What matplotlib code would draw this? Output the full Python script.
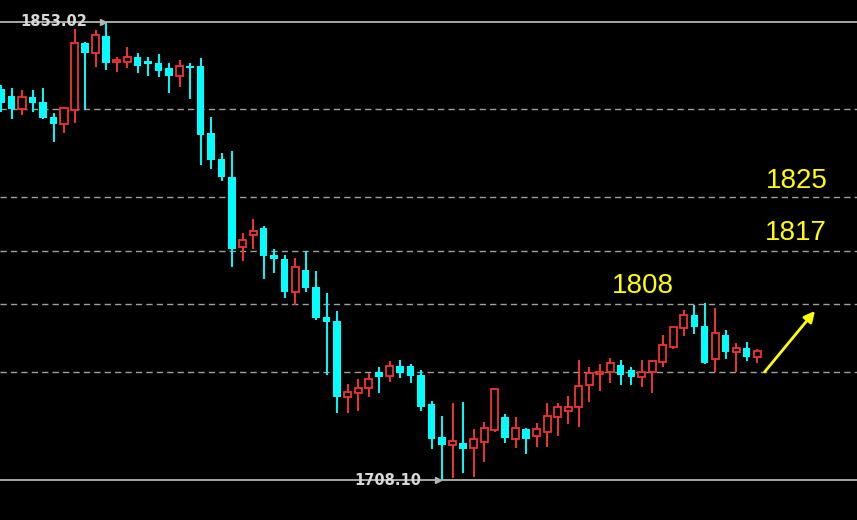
import matplotlib
matplotlib.use("Agg")
import matplotlib.pyplot as plt
import numpy as np

# candle data (open, high, low, close), one per bar, oldest first
opens = [1831.8, 1829.6, 1825.5, 1829.3, 1827.7, 1823.0, 1820.7, 1825.2, 1846.4, 1843.2,
         1848.6, 1840.4, 1840.4, 1842.0, 1840.7, 1840.0, 1838.5, 1835.9, 1839.1, 1839.1,
         1817.9, 1809.7, 1804.0, 1781.8, 1785.6, 1787.8, 1779.3, 1778.0, 1767.6, 1774.6,
         1769.2, 1759.7, 1758.4, 1734.4, 1735.6, 1737.2, 1742.3, 1741.0, 1744.2, 1744.2,
         1741.3, 1732.2, 1721.7, 1719.2, 1719.8, 1718.2, 1720.1, 1723.9, 1728.0, 1721.1,
         1724.2, 1722.0, 1723.3, 1728.0, 1729.9, 1731.2, 1738.2, 1741.6, 1742.3, 1744.5,
         1742.9, 1740.7, 1742.3, 1745.4, 1750.2, 1756.2, 1760.3, 1756.8, 1746.4, 1754.0,
         1748.6, 1749.9, 1747.0]
highs = [1833.1, 1832.1, 1831.5, 1831.5, 1832.1, 1824.2, 1826.1, 1850.8, 1846.7, 1850.5,
         1853.02, 1842.0, 1845.1, 1843.2, 1842.0, 1842.9, 1840.0, 1841.0, 1840.0, 1841.6,
         1823.0, 1811.6, 1812.2, 1786.3, 1790.7, 1788.5, 1781.2, 1779.3, 1778.3, 1780.6,
         1774.2, 1767.3, 1761.6, 1738.5, 1740.1, 1742.0, 1743.9, 1745.8, 1746.1, 1744.8,
         1742.9, 1733.1, 1728.4, 1732.5, 1732.8, 1724.2, 1726.5, 1736.9, 1729.0, 1728.0,
         1724.6, 1726.1, 1732.5, 1732.5, 1734.7, 1746.1, 1743.9, 1744.8, 1746.7, 1746.1,
         1743.9, 1746.1, 1746.1, 1754.0, 1756.5, 1761.9, 1763.5, 1764.1, 1762.5, 1755.6,
         1751.5, 1751.8, 1749.6]
lows = [1824.5, 1822.3, 1823.6, 1824.5, 1822.3, 1815.1, 1817.9, 1821.1, 1825.2, 1838.8,
        1837.8, 1837.2, 1838.5, 1836.9, 1835.9, 1835.6, 1830.6, 1832.5, 1828.7, 1807.8,
        1806.5, 1802.7, 1775.5, 1777.4, 1781.2, 1771.7, 1773.6, 1765.7, 1763.5, 1767.6,
        1758.7, 1741.3, 1729.3, 1729.3, 1729.9, 1734.4, 1735.6, 1739.1, 1740.4, 1738.8,
        1729.9, 1717.9, 1708.10, 1708.7, 1710.3, 1709.0, 1713.8, 1723.3, 1719.8, 1718.2,
        1716.3, 1718.5, 1718.5, 1722.0, 1725.8, 1724.9, 1732.8, 1736.3, 1738.8, 1738.2,
        1738.2, 1737.5, 1735.6, 1743.9, 1749.6, 1753.7, 1754.3, 1744.8, 1742.3, 1746.4,
        1742.3, 1745.8, 1745.1]
closes = [1827.4, 1825.5, 1829.3, 1827.4, 1822.6, 1820.7, 1825.8, 1846.4, 1843.2, 1848.9,
          1840.1, 1841.0, 1842.0, 1839.1, 1839.7, 1837.5, 1835.9, 1839.1, 1838.5, 1817.3,
          1809.4, 1804.0, 1781.2, 1784.0, 1786.9, 1779.0, 1778.0, 1767.6, 1775.5, 1768.9,
          1759.4, 1758.1, 1734.4, 1735.9, 1737.2, 1740.1, 1740.7, 1744.2, 1742.0, 1741.0,
          1731.2, 1721.1, 1719.2, 1720.4, 1717.9, 1721.1, 1724.6, 1736.9, 1721.4, 1724.6,
          1721.1, 1724.2, 1728.4, 1731.2, 1731.2, 1737.8, 1742.0, 1742.3, 1745.1, 1741.3,
          1740.7, 1742.3, 1745.8, 1750.8, 1756.5, 1760.3, 1756.5, 1745.1, 1754.6, 1748.6,
          1749.9, 1747.0, 1748.9]

# horizontal levels
top_level = 1853.02
bottom_level = 1708.10
dashed_levels = [1825.5, 1797.6, 1780.6, 1763.8, 1742.3]

# yellow annotations: (text, bar position, price)
notes = [("1825", 75.8, 1802.7), ("1817", 75.7, 1786.2), ("1808", 61.1, 1769.5)]
arrow_from = (72.7, 1742.3)
arrow_to = (77.5, 1761.6)

up_color = "#f03434"
down_color = "#00ffff"
grid_color = "#a0a0a0"

fig = plt.figure(figsize=(8.57, 5.2), dpi=100)
fig.patch.set_facecolor("black")
ax = fig.add_axes([0, 0, 1, 1])
ax.set_facecolor("black")
ax.set_axis_off()

x = np.arange(len(opens))
o = np.array(opens)
c = np.array(closes)
up = c >= o

# level lines
for lv in dashed_levels:
    ax.axhline(lv, color=grid_color, lw=1.0, dashes=(4.5, 3), zorder=1)
ax.axhline(top_level, color="#b4b4b4", lw=1.3, zorder=1)
ax.axhline(bottom_level, color="#b4b4b4", lw=1.3, zorder=1)

# wicks
ax.vlines(x[up], np.array(lows)[up], np.array(highs)[up], color=up_color, lw=1.4, zorder=2)
ax.vlines(x[~up], np.array(lows)[~up], np.array(highs)[~up], color=down_color, lw=1.4, zorder=2)

# bodies
body_lo = np.minimum(o, c)
body_h = np.maximum(np.abs(c - o), 0.6)
ax.bar(x[up], body_h[up], bottom=body_lo[up], width=0.68, facecolor="black",
       edgecolor=up_color, linewidth=1.3, zorder=3)
ax.bar(x[~up], body_h[~up], bottom=body_lo[~up], width=0.7, color=down_color,
       linewidth=0, zorder=3)

# max / min labels
i_hi = int(np.argmax(highs))
i_lo = int(np.argmin(lows))
ax.text(i_hi - 5.0, top_level, "1853.02", color="#d8d8d8", fontsize=10.5, fontweight="bold",
        ha="center", va="center", zorder=4)
ax.plot(i_hi - 0.3, top_level, marker=">", ms=4, color="#b4b4b4", zorder=4)
ax.text(i_lo - 5.2, bottom_level, "1708.10", color="#d8d8d8", fontsize=10.5, fontweight="bold",
        ha="center", va="center", zorder=4)
ax.plot(i_lo - 0.4, bottom_level, marker=">", ms=4, color="#b4b4b4", zorder=4)

# yellow notes
for txt, xi, yv in notes:
    ax.text(xi, yv, txt, color="#ffff00", fontsize=20,
            family=["Liberation Sans Narrow", "Liberation Sans"],
            ha="center", va="center", zorder=5)
ax.annotate("", xy=arrow_to, xytext=arrow_from,
            arrowprops=dict(arrowstyle="-|>", color="#ffff00", lw=2,
                            mutation_scale=16, shrinkA=0, shrinkB=0), zorder=5)

ax.set_xlim(-0.1, 81.5)
ax.set_ylim(1695.45, 1859.98)

fig.savefig("out.png", dpi=100, facecolor="black")
